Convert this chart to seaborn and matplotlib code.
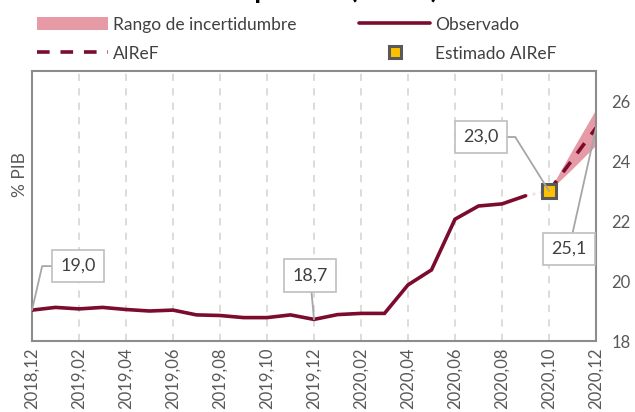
import matplotlib
matplotlib.use("Agg")
import matplotlib.pyplot as plt
from matplotlib.lines import Line2D
from matplotlib.patches import Patch
import seaborn as sns
import pandas as pd

# ---------------- data ----------------
months = ["2018,12", "2019,01", "2019,02", "2019,03", "2019,04", "2019,05", "2019,06",
          "2019,07", "2019,08", "2019,09", "2019,10", "2019,11", "2019,12", "2020,01",
          "2020,02", "2020,03", "2020,04", "2020,05", "2020,06", "2020,07", "2020,08",
          "2020,09", "2020,10", "2020,11", "2020,12"]
observed = [19.03, 19.12, 19.07, 19.12, 19.05, 19.0, 19.03, 18.87, 18.85, 18.78, 18.78,
            18.87, 18.72, 18.88, 18.92, 18.92, 19.87, 20.37, 22.06, 22.5, 22.57, 22.84]
forecast_months = ["2020,10", "2020,11", "2020,12"]
forecast = [23.0, 24.05, 25.1]
band_low = [23.0, 23.75, 24.53]
band_high = [23.0, 24.38, 25.73]
estimated_month = "2020,10"
estimated_value = 23.0
tick_labels = months[::2]
yticks = [18, 20, 22, 24, 26]

title = "Deuda pública (% PIB)"
ylabel = "% PIB"

# ---------------- style ----------------
sns.set_theme(style="white")
plt.rcParams["font.family"] = ["Lato", "DejaVu Sans"]

RED = "#7B0C2E"
BAND = "#E59AA6"
GOLD = "#FFC000"
EDGE = "#595959"
SPINE = "#8C8C8C"
GRID = "#D9D9D9"
TXT = "#404040"

W, H = 635, 412
fig = plt.figure(figsize=(W / 100, H / 100), dpi=100)
ax = fig.add_axes([32 / W, 1 - 341 / H, (596 - 32) / W, (341 - 71) / H])

idx = {m: i for i, m in enumerate(months)}
obs_df = pd.DataFrame({"x": [idx[m] for m in months[:len(observed)]], "y": observed})
fc_df = pd.DataFrame({"x": [idx[m] for m in forecast_months], "y": forecast,
                      "lo": band_low, "hi": band_high})

# uncertainty band
ax.fill_between(fc_df["x"], fc_df["lo"], fc_df["hi"], color=BAND, lw=0, zorder=2)
# observed
sns.lineplot(data=obs_df, x="x", y="y", ax=ax, color=RED, lw=2.6, zorder=3,
             solid_joinstyle="miter")
# faint connection
ax.plot([obs_df["x"].iloc[-1], idx[estimated_month]], [observed[-1], estimated_value],
        color="#F3DCE2", lw=2, ls=":", zorder=2)
# forecast dashed
sns.lineplot(data=fc_df, x="x", y="y", ax=ax, color=RED, lw=2.6, zorder=3,
             dashes=False, linestyle=(0, (3.5, 3)))
# estimated marker
ax.plot([idx[estimated_month]], [estimated_value], marker="s", ms=10, mfc=GOLD,
        mec=EDGE, mew=2.2, ls="none", zorder=5)

# axes
ax.set_xlim(0, len(months) - 1)
ax.set_ylim(18, 27)
ax.set_xticks(range(0, len(months), 2))
ax.set_xticklabels(tick_labels, rotation=90, fontsize=12, color=EDGE)
ax.yaxis.tick_right()
ax.set_yticks(yticks)
ax.set_yticklabels([str(v) for v in yticks], fontsize=12, color=EDGE)
ax.tick_params(axis="y", length=0, pad=11)
ax.tick_params(axis="x", length=0, pad=5)
ax.set_xlabel("")
ax.set_ylabel("")
for x in range(2, len(months) - 1, 2):
    ax.axvline(x, color=GRID, lw=1.3, ls=(0, (4, 4)), zorder=1)
for s in ax.spines.values():
    s.set_color(SPINE)
    s.set_linewidth(1.5)

fig.text(20 / W, 1 - 175 / H, ylabel, rotation=90, ha="center", va="center",
         fontsize=12.5, color=EDGE)

# data labels
bbox = dict(boxstyle="square,pad=0.45", fc="white", ec="#BFBFBF", lw=1.2)
def label(xm, yv, text, dx, dy, cs):
    ax.annotate(text, xy=(idx[xm], yv), xytext=(dx, dy), textcoords="offset pixels",
                ha="center", va="center", fontsize=13, color=TXT, bbox=bbox,
                arrowprops=dict(arrowstyle="-", color="#A6A6A6", lw=1.3,
                                connectionstyle=cs, shrinkA=0, shrinkB=0),
                zorder=6)

label("2018,12", observed[0], "19,0", 46, 44, "angle,angleA=0,angleB=77,rad=0")
label("2019,12", observed[12], "18,7", -4, 44, "arc3,rad=0")
label("2020,10", estimated_value, "23,0", -68, 54, "angle,angleA=0,angleB=122,rad=0")
label("2020,12", forecast[-1], "25,1", -27, -121, "arc3,rad=0")

# legend
handles = [Patch(facecolor=BAND, edgecolor="none"),
           Line2D([], [], color=RED, lw=2.6, ls=(0, (3.5, 3))),
           Line2D([], [], color=RED, lw=2.6),
           Line2D([], [], marker="s", ms=9, mfc=GOLD, mec=EDGE, mew=2.2, ls="none")]
labels = ["Rango de incertidumbre", "AIReF", "Observado", "Estimado AIReF"]
fig.legend(handles, labels, ncol=2, loc="upper left", bbox_to_anchor=(28 / W, 1 - 8 / H),
           frameon=False, fontsize=12.5, handlelength=4.1, handleheight=0.75,
           columnspacing=3.6, labelspacing=0.75, handletextpad=0.3, borderpad=0,
           labelcolor=TXT)

# title: almost entirely above the visible canvas, as in the reference
fig.text(166 / W, 1 + 2 / H, title, ha="left", va="baseline", fontsize=20,
         fontweight="bold", color="black")

fig.savefig("out.png", dpi=100)
